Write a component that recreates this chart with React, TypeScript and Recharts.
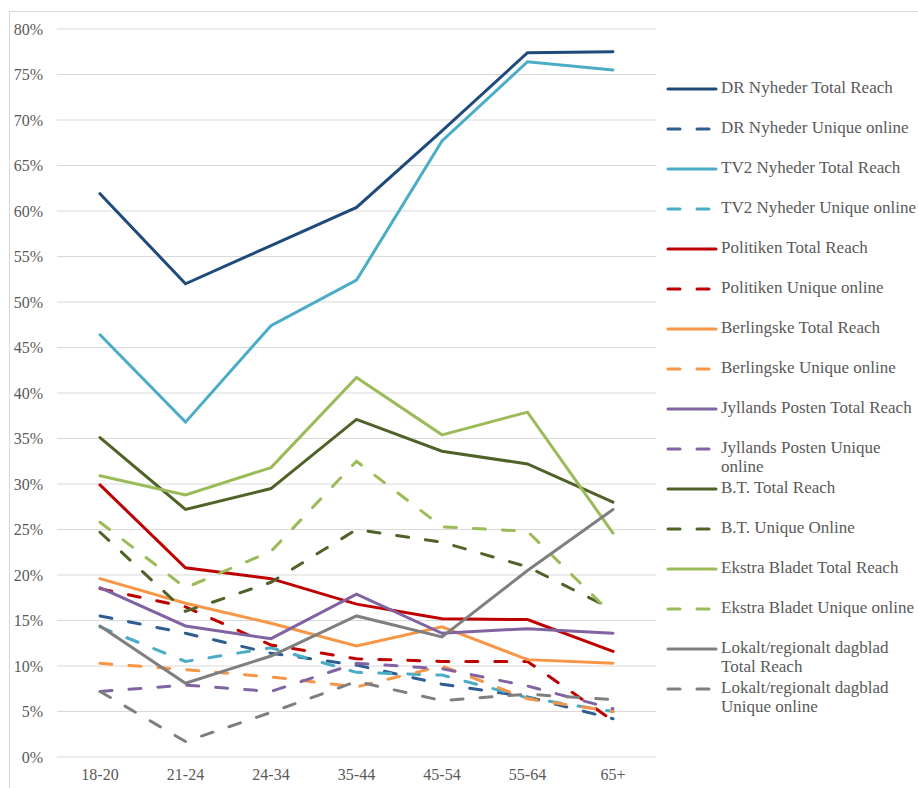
import React from 'react';
import { LineChart, Line, XAxis, YAxis, CartesianGrid } from 'recharts';

const ageGroups = ['18-20', '21-24', '24-34', '35-44', '45-54', '55-64', '65+'];

const drTotal = [61.9, 52.0, 56.2, 60.4, 68.8, 77.4, 77.5];
const drUnique = [15.5, 13.6, 11.4, 10.1, 8.0, 6.6, 4.2];
const tv2Total = [46.4, 36.8, 47.4, 52.4, 67.7, 76.4, 75.5];
const tv2Unique = [14.3, 10.5, 12.0, 9.3, 9.0, 6.5, 5.0];
const polTotal = [29.9, 20.8, 19.6, 16.8, 15.2, 15.1, 11.6];
const polUnique = [18.5, 16.5, 12.3, 10.8, 10.5, 10.5, 4.0];
const berTotal = [19.6, 16.9, 14.7, 12.2, 14.3, 10.7, 10.3];
const berUnique = [10.3, 9.6, 8.8, 7.7, 10.0, 6.4, 5.0];
const jpTotal = [18.6, 14.4, 13.0, 17.9, 13.6, 14.1, 13.6];
const jpUnique = [7.2, 7.9, 7.2, 10.3, 9.7, 7.8, 5.3];
const btTotal = [35.1, 27.2, 29.5, 37.1, 33.6, 32.2, 28.0];
const btUnique = [24.7, 16.0, 19.2, 25.0, 23.6, 20.9, 16.2];
const ebTotal = [30.9, 28.8, 31.8, 41.7, 35.4, 37.9, 24.6];
const ebUnique = [25.8, 18.6, 22.6, 32.5, 25.3, 24.8, 15.6];
const lokTotal = [14.4, 8.1, 11.1, 15.5, 13.2, 20.5, 27.2];
const lokUnique = [7.2, 1.7, 4.9, 8.3, 6.2, 6.9, 6.3];

const yTicks = [0, 5, 10, 15, 20, 25, 30, 35, 40, 45, 50, 55, 60, 65, 70, 75, 80];

const series = [
  { key: 'drTotal', name: 'DR Nyheder Total Reach', values: drTotal, color: '#1f4a7c', dashed: false },
  { key: 'drUnique', name: 'DR Nyheder Unique online', values: drUnique, color: '#2f5d91', dashed: true },
  { key: 'tv2Total', name: 'TV2 Nyheder Total Reach', values: tv2Total, color: '#4bacc6', dashed: false },
  { key: 'tv2Unique', name: 'TV2 Nyheder Unique online', values: tv2Unique, color: '#4bacc6', dashed: true },
  { key: 'polTotal', name: 'Politiken Total Reach', values: polTotal, color: '#c00000', dashed: false },
  { key: 'polUnique', name: 'Politiken Unique online', values: polUnique, color: '#c00000', dashed: true },
  { key: 'berTotal', name: 'Berlingske Total Reach', values: berTotal, color: '#f79646', dashed: false },
  { key: 'berUnique', name: 'Berlingske Unique online', values: berUnique, color: '#f79646', dashed: true },
  { key: 'jpTotal', name: 'Jyllands Posten Total Reach', values: jpTotal, color: '#8064a2', dashed: false },
  { key: 'jpUnique', name: 'Jyllands Posten Unique online', values: jpUnique, color: '#8064a2', dashed: true },
  { key: 'btTotal', name: 'B.T. Total Reach', values: btTotal, color: '#4f6228', dashed: false },
  { key: 'btUnique', name: 'B.T. Unique Online', values: btUnique, color: '#4f6228', dashed: true },
  { key: 'ebTotal', name: 'Ekstra Bladet Total Reach', values: ebTotal, color: '#9bbb59', dashed: false },
  { key: 'ebUnique', name: 'Ekstra Bladet Unique online', values: ebUnique, color: '#9bbb59', dashed: true },
  { key: 'lokTotal', name: 'Lokalt/regionalt dagblad Total Reach', values: lokTotal, color: '#7f7f7f', dashed: false },
  { key: 'lokUnique', name: 'Lokalt/regionalt dagblad Unique online', values: lokUnique, color: '#7f7f7f', dashed: true },
];

const data = ageGroups.map((age, i) => {
  const row: Record<string, string | number> = { age };
  series.forEach((s) => { row[s.key] = s.values[i]; });
  return row;
});

const font = '"Liberation Serif", "Times New Roman", serif';
const textColor = '#595959';

const ChartLegend = () => (
  <div style={{ position: 'absolute', left: 665, top: 78, fontFamily: font, fontSize: 17, color: textColor }}>
    {series.map((s) => (
      <div key={s.key} style={{ height: 40, display: 'flex', alignItems: 'flex-start' }}>
        <svg width={54} height={22} style={{ flexShrink: 0 }}>
          <line x1={3} y1={11} x2={51} y2={11} stroke={s.color} strokeWidth={3}
            strokeLinecap="round" strokeDasharray={s.dashed ? '12 17' : undefined} />
        </svg>
        <span style={{ width: 195, lineHeight: '19px', marginLeft: 2 }}>{s.name}</span>
      </div>
    ))}
  </div>
);

export default function App() {
  return (
    <div style={{ position: 'absolute', left: 0, top: 0, width: 918, height: 788, background: '#fff', overflow: 'hidden' }}>
      <div style={{ position: 'absolute', left: 9, top: 11, width: 920, height: 800, border: '1px solid #d9d9d9' }} />
      <LineChart width={918} height={788} data={data} margin={{ top: 29, right: 262, bottom: 0, left: 0 }}>
        <CartesianGrid vertical={false} stroke="#d9d9d9" strokeWidth={1} />
        <XAxis dataKey="age" axisLine={false} tickLine={false} height={31} tickMargin={6}
          padding={{ left: 43, right: 43 }}
          tick={{ fontFamily: font, fontSize: 16, fill: textColor }} />
        <YAxis domain={[0, 80]} ticks={yTicks} interval={0} width={57} axisLine={false} tickLine={false}
          tickSize={6} tickMargin={8} tickFormatter={(v: number) => `${v}%`}
          tick={{ fontFamily: font, fontSize: 16, fill: textColor }} />
        {series.map((s) => (
          <Line key={s.key} dataKey={s.key} name={s.name} type="linear" stroke={s.color} strokeWidth={3}
            strokeLinecap="round" strokeDasharray={s.dashed ? '12 17' : undefined}
            dot={false} activeDot={false} isAnimationActive={false} />
        ))}
      </LineChart>
      <ChartLegend />
    </div>
  );
}
